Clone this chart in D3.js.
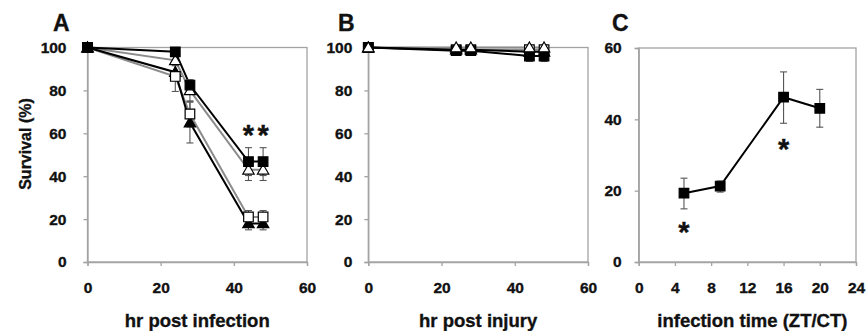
<!DOCTYPE html>
<html>
<head>
<meta charset="utf-8">
<script src="https://cdn.jsdelivr.net/npm/d3@7"></script>
<style>
  body { margin: 0; background: #fff; }
  text { font-family: "Liberation Sans", Arial, sans-serif; font-weight: bold; fill: #111; stroke: #111; stroke-width: 0.35px; }
</style>
</head>
<body>
<svg id="chart" width="867" height="331"></svg>
<script>
// ---- data ----
const hoursA = [0, 24, 28, 44, 48];
const filledSquareA = [100, 98, 82.5, 46.8, 46.8];
const filledSquareErrA = [0, 1, 2, 6.5, 6.5];
const openTriangleA = [100, 94, 80, 43, 43];
const openTriangleErrA = [0, 2, 5, 5, 5];
const openSquareA = [100, 86.5, 69, 21, 21];
const openSquareErrA = [0, 7, 6, 3, 3];
const filledTriangleA = [100, 88.5, 65, 18, 18];
const filledTriangleErrA = [0, 3, 9.5, 3, 3];
const starsA = [44, 48];
const starLevelA = 62.5;

const hoursB = [0, 24, 28, 44, 48];
const filledSquareB = [100, 98.5, 98.5, 96, 96];
const filledSquareErrB = [0, 1, 1, 2.5, 2.5];
const openTriangleB = [100, 100, 100, 100, 100];
const openSquareB = [100, 99, 99, 99, 99];
const filledTriangleB = [100, 99, 99, 98, 98];

const timesC = [5, 9, 16, 20];
const survivalC = [19.3, 21.3, 46.2, 43.1];
const highC = [23.5, 22.7, 53.3, 48.4];
const lowC = [14.9, 19.6, 38.9, 37.8];
const starsC = [5, 16];
const starLevelsC = [10.4, 33.7];

const pctTicks = [0, 20, 40, 60, 80, 100];
const hourTicks = [0, 20, 40, 60];
const timeTicks = [0, 4, 8, 12, 16, 20, 24];
const cTicks = [0, 20, 40, 60];

const svg = d3.select('#chart');

function makePanel(opts) {
    const x = d3.scaleLinear().domain(opts.xDomain).range([opts.left, opts.right]);
    const y = d3.scaleLinear().domain(opts.yDomain).range([opts.bottom, opts.top]);
    const g = svg.append('g');

    g.append('rect')
        .attr('x', opts.left).attr('y', opts.top)
        .attr('width', opts.right - opts.left).attr('height', opts.bottom - opts.top)
        .attr('fill', 'none').attr('stroke', '#a3a3a3').attr('stroke-width', 1.3);

    const yAxis = g.append('g')
        .attr('transform', `translate(${opts.left},0)`)
        .call(d3.axisLeft(y).tickValues(opts.yTicks).tickSize(4).tickPadding(opts.yPad));
    const xAxis = g.append('g')
        .attr('transform', `translate(0,${opts.bottom})`)
        .call(d3.axisBottom(x).tickValues(opts.xTicks).tickSize(4).tickPadding(16));

    [xAxis, yAxis].forEach((a) => {
        a.select('.domain').attr('stroke', '#a3a3a3').attr('stroke-width', 1.3);
        a.selectAll('.tick line').attr('stroke', '#a3a3a3').attr('stroke-width', 1.3);
        a.selectAll('.tick text')
            .attr('fill', '#111')
            .style('font-size', '15.5px')
            .style('font-family', '"Liberation Sans", Arial, sans-serif')
            .style('font-weight', 'bold');
    });

    g.append('text')
        .attr('x', opts.letterX).attr('y', 31)
        .style('font-size', '23px')
        .text(opts.letter);

    g.append('text')
        .attr('x', (opts.left + opts.right) / 2 + (opts.titleShift || 0)).attr('y', 327)
        .attr('text-anchor', 'middle')
        .style('font-size', '18.5px')
        .text(opts.title);

    return { g, x, y };
}

function drawLine(p, xs, vals, color) {
    const line = d3.line().x((d, i) => p.x(xs[i])).y((d) => p.y(d));
    p.g.append('path')
        .attr('d', line(vals))
        .attr('fill', 'none')
        .attr('stroke', color)
        .attr('stroke-width', 2);
}

function drawErrors(p, xs, lows, highs) {
    const eg = p.g.append('g').attr('stroke', '#555').attr('stroke-width', 1.1);
    xs.forEach((xv, i) => {
        if (highs[i] === lows[i]) return;
        const cx = p.x(xv);
        eg.append('line').attr('x1', cx).attr('x2', cx).attr('y1', p.y(lows[i])).attr('y2', p.y(highs[i]));
        eg.append('line').attr('x1', cx - 3.5).attr('x2', cx + 3.5).attr('y1', p.y(lows[i])).attr('y2', p.y(lows[i]));
        eg.append('line').attr('x1', cx - 3.5).attr('x2', cx + 3.5).attr('y1', p.y(highs[i])).attr('y2', p.y(highs[i]));
    });
}

function drawMarkers(p, xs, vals, shape, filled) {
    const sym = shape === 'square'
        ? d3.symbol(d3.symbolSquare, 92)
        : d3.symbol(d3.symbolTriangle, 56);
    p.g.append('g').selectAll('path')
        .data(vals)
        .join('path')
        .attr('d', sym)
        .attr('transform', (d, i) => `translate(${p.x(xs[i])},${p.y(d) + (shape === 'triangle' ? 1 : 0)})`)
        .attr('fill', filled ? '#000' : '#fff')
        .attr('stroke', '#000')
        .attr('stroke-width', 1.2);
}

function drawStars(p, xs, levels) {
    p.g.append('g').selectAll('text')
        .data(xs)
        .join('text')
        .attr('x', (d) => p.x(d))
        .attr('y', (d, i) => p.y(levels[i]))
        .attr('dy', '0.6em')
        .attr('text-anchor', 'middle')
        .style('font-size', '29px')
        .text('*');
}

const minus = (v, e) => v.map((d, i) => d - e[i]);
const plus = (v, e) => v.map((d, i) => d + e[i]);

// ---- panel A ----
const pA = makePanel({
    left: 87.5, right: 307, top: 47.5, bottom: 262,
    xDomain: [0, 60], yDomain: [0, 100], xTicks: hourTicks, yTicks: pctTicks,
    yPad: 17, letter: 'A', letterX: 53, title: 'hr post infection'
});
drawLine(pA, hoursA, openSquareA, '#8c8c8c');
drawLine(pA, hoursA, openTriangleA, '#8c8c8c');
drawLine(pA, hoursA, filledTriangleA, '#000');
drawLine(pA, hoursA, filledSquareA, '#000');
drawErrors(pA, hoursA, minus(filledTriangleA, filledTriangleErrA), plus(filledTriangleA, filledTriangleErrA));
drawErrors(pA, hoursA, minus(openSquareA, openSquareErrA), plus(openSquareA, openSquareErrA));
drawErrors(pA, hoursA, minus(openTriangleA, openTriangleErrA), plus(openTriangleA, openTriangleErrA));
drawErrors(pA, hoursA, minus(filledSquareA, filledSquareErrA), plus(filledSquareA, filledSquareErrA));
drawMarkers(pA, hoursA, filledTriangleA, 'triangle', true);
drawMarkers(pA, hoursA, openSquareA, 'square', false);
drawMarkers(pA, hoursA, openTriangleA, 'triangle', false);
drawMarkers(pA, hoursA, filledSquareA, 'square', true);
drawStars(pA, starsA, starsA.map(() => starLevelA));

// ---- panel B ----
const pB = makePanel({
    left: 368.3, right: 588, top: 47.5, bottom: 262,
    xDomain: [0, 60], yDomain: [0, 100], xTicks: hourTicks, yTicks: pctTicks,
    yPad: 12, letter: 'B', letterX: 338, title: 'hr post injury'
});
drawLine(pB, hoursB, openSquareB, '#8c8c8c');
drawLine(pB, hoursB, openTriangleB, '#8c8c8c');
drawLine(pB, hoursB, filledTriangleB, '#000');
drawLine(pB, hoursB, filledSquareB, '#000');
drawErrors(pB, hoursB, minus(filledSquareB, filledSquareErrB), plus(filledSquareB, filledSquareErrB));
drawMarkers(pB, hoursB, filledTriangleB, 'triangle', true);
drawMarkers(pB, hoursB, openSquareB, 'square', false);
drawMarkers(pB, hoursB, filledSquareB, 'square', true);
drawMarkers(pB, hoursB, openTriangleB, 'triangle', false);

// ---- panel C ----
const pC = makePanel({
    left: 638.7, right: 856, top: 48, bottom: 262,
    xDomain: [0, 24], yDomain: [0, 60], xTicks: timeTicks, yTicks: cTicks,
    yPad: 13, letter: 'C', letterX: 612, title: 'infection time (ZT/CT)', titleShift: 5
});
drawLine(pC, timesC, survivalC, '#000');
drawErrors(pC, timesC, lowC, highC);
drawMarkers(pC, timesC, survivalC, 'square', true);
drawStars(pC, starsC, starLevelsC);

// shared y title
svg.append('text')
    .attr('transform', 'translate(31,144) rotate(-90)')
    .attr('text-anchor', 'middle')
    .style('font-size', '16px')
    .text('Survival (%)');
</script>
</body>
</html>
